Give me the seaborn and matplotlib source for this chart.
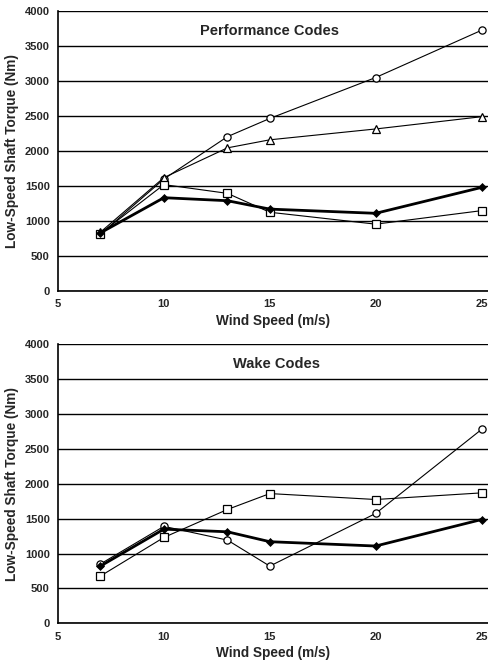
import matplotlib
matplotlib.use("Agg")
import matplotlib.pyplot as plt
import seaborn as sns
import pandas as pd

wind_speed = [7, 10, 13, 15, 20, 25]

# Performance Codes panel
perf_diamond = [830, 1333, 1290, 1170, 1110, 1480]
perf_circle = [810, 1600, 2205, 2465, 3050, 3725]
perf_triangle = [840, 1620, 2045, 2160, 2315, 2490]
perf_square = [820, 1520, 1395, 1125, 955, 1148]

# Wake Codes panel
wake_diamond = [820, 1350, 1312, 1170, 1108, 1488]
wake_circle = [850, 1390, 1193, 820, 1575, 2780]
wake_square = [677, 1231, 1632, 1860, 1775, 1870]

titles = ["Performance Codes", "Wake Codes"]
y_ticks = [0, 500, 1000, 1500, 2000, 2500, 3000, 3500, 4000]
x_ticks = [5, 10, 15, 20, 25]
x_label = "Wind Speed (m/s)"
y_label = "Low-Speed Shaft Torque (Nm)"

sns.set_style("white")
plt.rcParams['font.family'] = ['Liberation Sans', 'DejaVu Sans']

fig = plt.figure(figsize=(4.89, 6.67), dpi=100)
ax1 = fig.add_axes([0.1186, 0.5637, 0.8814, 0.4198])
ax2 = fig.add_axes([0.1186, 0.0655, 0.8814, 0.4183])

styles = {
    "diamond": dict(marker="D", lw=2.0, ms=4, mfc="black", mec="black"),
    "circle": dict(marker="o", lw=0.8, ms=5.2, mfc="white", mec="black", mew=0.9),
    "triangle": dict(marker="^", lw=0.8, ms=5.2, mfc="white", mec="black", mew=0.9),
    "square": dict(marker="s", lw=0.8, ms=5.2, mfc="white", mec="black", mew=0.9),
}

panels = [
    (ax1, {"circle": perf_circle, "triangle": perf_triangle, "square": perf_square, "diamond": perf_diamond}, titles[0], 15.0),
    (ax2, {"circle": wake_circle, "square": wake_square, "diamond": wake_diamond}, titles[1], 15.3),
]

for ax, series, title, tx in panels:
    for name, vals in series.items():
        df = pd.DataFrame({"x": wind_speed, "y": vals})
        st = styles[name]
        sns.lineplot(data=df, x="x", y="y", ax=ax, color="black",
                     linewidth=st["lw"], marker=st["marker"], markersize=st["ms"],
                     markerfacecolor=st["mfc"], markeredgecolor=st["mec"],
                     markeredgewidth=st.get("mew", 0.5), zorder=3)
    ax.set_xlim(5, 25.35)
    ax.set_ylim(0, 4000)
    ax.set_yticks(y_ticks)
    ax.set_xticks(x_ticks)
    ax.set_yticklabels([str(v) for v in y_ticks], fontsize=8, fontweight="bold")
    ax.set_xticklabels([str(v) for v in x_ticks], fontsize=8, fontweight="bold")
    ax.yaxis.grid(True, color="black", lw=1.0)
    ax.xaxis.grid(False)
    for s in ["top", "right"]:
        ax.spines[s].set_visible(False)
    for s in ["left", "bottom"]:
        ax.spines[s].set_color("black")
        ax.spines[s].set_linewidth(1.2)
    ax.tick_params(axis="both", direction="out", length=3, width=1, color="black", pad=3)
    ax.set_xlabel(x_label, fontsize=9.8, fontweight="bold", labelpad=3)
    ax.set_ylabel(y_label, fontsize=9.8, fontweight="bold", labelpad=4)
    ax.text(tx, 3720, title, ha="center", va="center", fontsize=10.5, fontweight="bold")
    ax.set_axisbelow(True)

fig.savefig("out.png", dpi=100)
